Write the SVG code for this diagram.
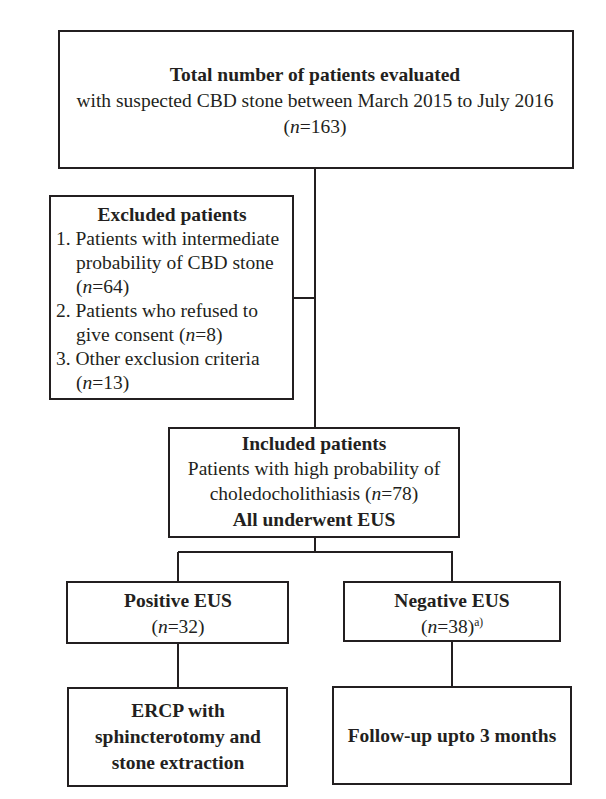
<svg xmlns="http://www.w3.org/2000/svg" width="606" height="799" viewBox="0 0 606 799">
<style>
.box{fill:#fff;stroke:#231f20;stroke-width:2}
.ln{stroke:#231f20;stroke-width:2;fill:none}
text{font-family:"Liberation Serif","Times New Roman",serif;font-size:19.5px;fill:#231f20}
.c{text-anchor:middle}
.b{font-weight:bold}
</style>
<rect width="606" height="799" fill="#fff"/>
<g id="connectors">
<path class="ln" d="M315 168V428M293 298H315M315 537V552M178 552H453M178 552V582M452 552V582M178 643V688M452 641V687"/>
</g>
<g id="total">
<rect class="box" x="59" y="31" width="514" height="137"/>
<text class="c b" x="315" y="81">Total number of patients evaluated</text>
<text class="c" x="315" y="107">with suspected CBD stone between March 2015 to July 2016</text>
<text class="c" x="315" y="133">(<tspan font-style="italic">n</tspan>=163)</text>
</g>
<g id="excluded">
<rect class="box" x="50" y="196" width="243" height="203"/>
<text class="c b" x="172" y="221">Excluded patients</text>
<text x="56" y="245">1. Patients with intermediate</text>
<text x="76" y="269">probability of CBD stone</text>
<text x="76" y="293">(<tspan font-style="italic">n</tspan>=64)</text>
<text x="56" y="317">2. Patients who refused to</text>
<text x="76" y="341">give consent (<tspan font-style="italic">n</tspan>=8)</text>
<text x="56" y="365">3. Other exclusion criteria</text>
<text x="76" y="389">(<tspan font-style="italic">n</tspan>=13)</text>
</g>
<g id="included">
<rect class="box" x="169" y="428" width="290" height="109"/>
<text class="c b" x="314" y="450">Included patients</text>
<text class="c" x="314" y="475">Patients with high probability of</text>
<text class="c" x="314" y="500">choledocholithiasis (<tspan font-style="italic">n</tspan>=78)</text>
<text class="c b" x="314" y="526">All underwent EUS</text>
</g>
<g id="positive">
<rect class="box" x="67" y="582" width="221" height="61"/>
<text class="c b" x="178" y="607">Positive EUS</text>
<text class="c" x="178" y="633">(<tspan font-style="italic">n</tspan>=32)</text>
</g>
<g id="negative">
<rect class="box" x="344" y="582" width="216" height="59"/>
<text class="c b" x="452" y="607">Negative EUS</text>
<text class="c" x="452" y="633">(<tspan font-style="italic">n</tspan>=38)<tspan font-size="11.5" dy="-7">a)</tspan></text>
</g>
<g id="ercp">
<rect class="box" x="68" y="688" width="219" height="98"/>
<text class="c b" x="178" y="717">ERCP with</text>
<text class="c b" x="178" y="743">sphincterotomy and</text>
<text class="c b" x="178" y="769">stone extraction</text>
</g>
<g id="followup">
<rect class="box" x="333" y="687" width="238" height="97"/>
<text class="c b" x="452" y="742">Follow-up upto 3 months</text>
</g>
</svg>
